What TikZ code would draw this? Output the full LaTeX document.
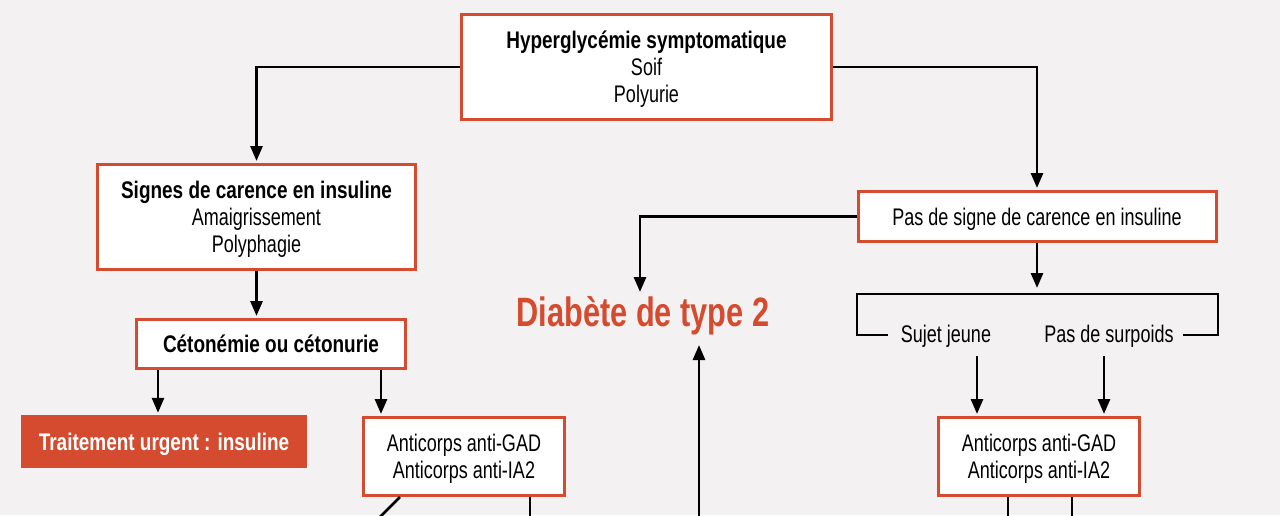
\documentclass[tikz,border=0pt]{standalone}
\usepackage{fontspec}
\setmainfont{Liberation Sans}[FakeStretch=0.75, BoldFeatures={FakeStretch=0.79}]
\newfontfamily\titlefont{Liberation Sans}[FakeStretch=0.75]
\usetikzlibrary{arrows.meta}
\definecolor{brick}{HTML}{D44B2F}
\definecolor{bg}{HTML}{F3F1F1}
\newcommand{\mytop}{\rule{0pt}{25.5pt}}
\newcommand{\mybot}{\rule[-8.5pt]{0pt}{8.5pt}}
\begin{document}
\begin{tikzpicture}[x=1pt,y=-1pt,
  box/.style={draw=brick, line width=3pt, fill=white, align=center, inner sep=0pt, font=\fontsize{24}{27}\selectfont},
  redbox/.style={fill=brick, text=white, align=center, inner sep=0pt, font=\fontsize{24}{27}\selectfont\bfseries},
  conn/.style={line width=2.8pt, black},
  arr/.style={conn, -{Triangle[length=15pt,width=12pt]}, shorten >=2pt},
  lbl/.style={font=\fontsize{24}{27}\selectfont, inner sep=0pt, anchor=base},
  title/.style={font=\titlefont\bfseries\fontsize{41}{41}\selectfont, text=brick, inner sep=0pt, anchor=base},
]
\fill[bg] (0,0) rectangle (1280,515);
\useasboundingbox (0,0) rectangle (1280,515);

% boxes
\node[box, minimum width=370pt, minimum height=105pt] (top) at (646.5,67) {\mytop\textbf{Hyperglycémie symptomatique}\\Soif\\Polyurie\mybot};
\node[box, minimum width=318pt, minimum height=105pt] (signes) at (256.5,217) {\mytop\textbf{Signes de carence en insuline}\\Amaigrissement\\Polyphagie\mybot};
\node[box, minimum width=358pt, minimum height=50pt] (pasde) at (1037,216.5) {\mytop\mybot Pas de signe de carence en insuline};
\node[box, minimum width=269pt, minimum height=49pt] (ceto) at (271,344) {\mytop\mybot\textbf{Cétonémie ou cétonurie}};
\node[redbox, minimum width=286pt, minimum height=53pt] (trait) at (164,441.5) {\mytop\mybot Traitement urgent : insuline};
\node[box, minimum width=201pt, minimum height=78pt] (antiL) at (464,456.5) {\mytop Anticorps anti-GAD\\Anticorps anti-IA2\mybot};
\node[box, minimum width=201pt, minimum height=78pt] (antiR) at (1039,456.5) {\mytop Anticorps anti-GAD\\Anticorps anti-IA2\mybot};
\node[title] (diab) at (643,326) {Diabète de type 2};
\node[lbl] (sujet) at (946,342) {Sujet jeune};
\node[lbl] (surp) at (1109,342) {Pas de surpoids};

% connectors
\draw[arr] (top.west) -| (signes.north);
\draw[arr] (top.east) -| (pasde.north);
\draw[arr] (signes.south) -- (signes.south |- ceto.north);

\coordinate (c1) at (158,0);
\coordinate (c2) at (381,0);
\draw[arr] (ceto.south -| c1) -- (trait.north -| c1);
\draw[arr] (ceto.south -| c2) -- (antiL.north -| c2);

\coordinate (d1) at (640,292);
\draw[arr, shorten >=0pt] (pasde.west) -| (d1);

\coordinate (up) at (699,517);
\coordinate (uptip) at (699,345);
\draw[arr, shorten >=0pt] (up) -- (uptip);

\coordinate (b1) at (1037,294);
\draw[arr, shorten >=6pt] (pasde.south) -- (pasde.south |- b1);

% bracket
\draw[conn] (888,335) -| (857,294) -| (1218,335) -- (1183,335);

\coordinate (s1) at (977,356);
\coordinate (s2) at (1104,356);
\draw[arr] (s1) -- (s1 |- antiR.north);
\draw[arr] (s2) -- (s2 |- antiR.north);

% lines leaving the bottom
\coordinate (l1) at (400,0);
\coordinate (l2) at (530,0);
\coordinate (r1) at (1008,0);
\coordinate (r2) at (1072,0);
\draw[conn] (antiL.south -| l1) -- ++(-20,20);
\draw[conn] (antiL.south -| l2) -- ++(0,20);
\draw[conn] (antiR.south -| r1) -- ++(0,20);
\draw[conn] (antiR.south -| r2) -- ++(0,20);
\end{tikzpicture}
\end{document}
